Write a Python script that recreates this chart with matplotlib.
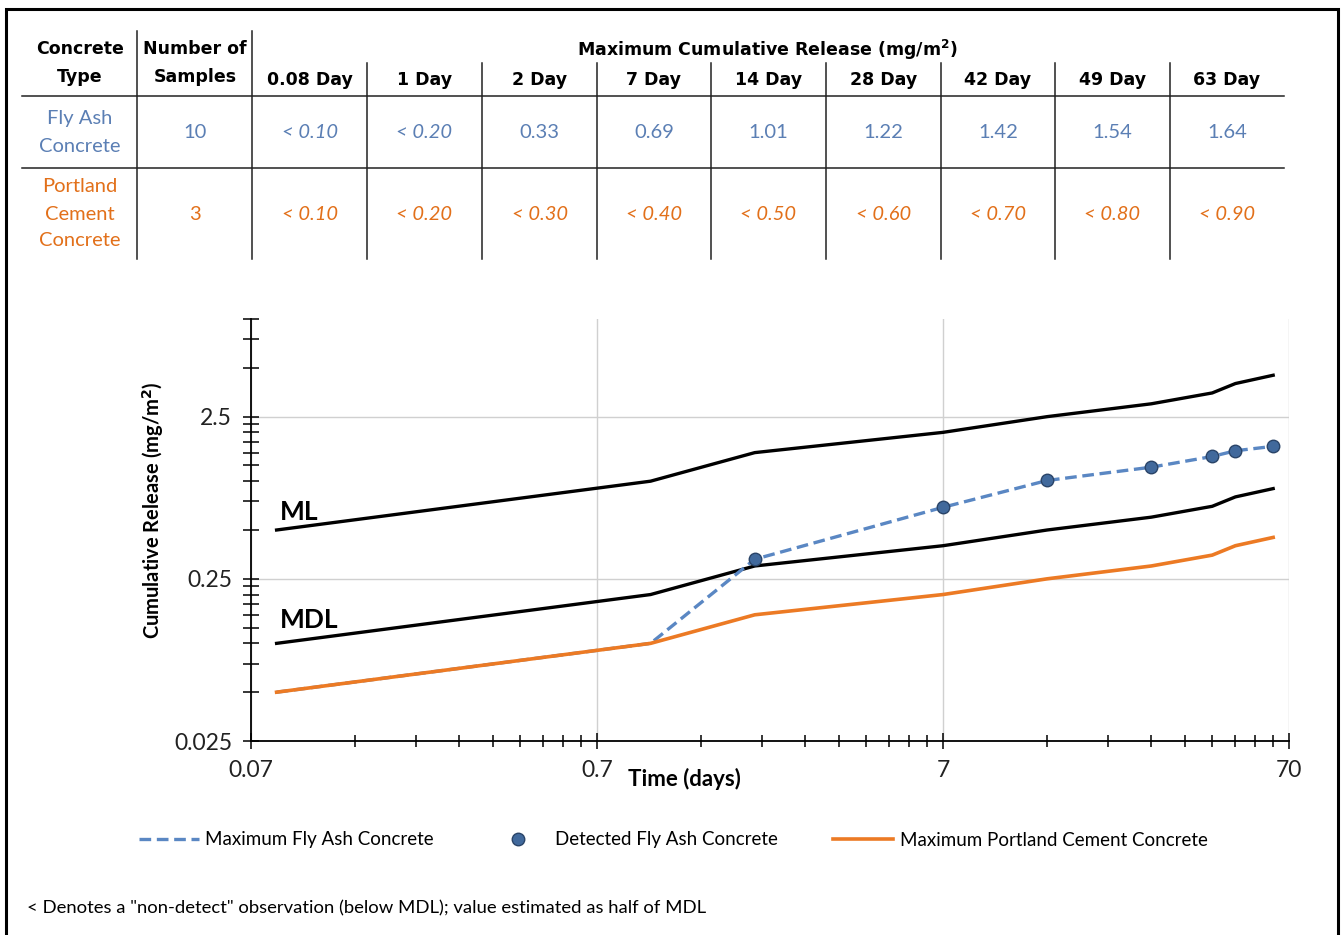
import matplotlib.pyplot as plt
import numpy as np
from matplotlib.lines import Line2D
from matplotlib.patches import Rectangle
from matplotlib.ticker import FixedLocator, NullFormatter

W, H = 1342, 935

# table data
day_labels = ["0.08 Day", "1 Day", "2 Day", "7 Day", "14 Day", "28 Day", "42 Day", "49 Day", "63 Day"]
fly_ash_cells = ["< 0.10", "< 0.20", "0.33", "0.69", "1.01", "1.22", "1.42", "1.54", "1.64"]
portland_cells = ["< 0.10", "< 0.20", "< 0.30", "< 0.40", "< 0.50", "< 0.60", "< 0.70", "< 0.80", "< 0.90"]
n_fly_ash = "10"
n_portland = "3"

# chart data
time_days = [0.083, 1, 2, 7, 14, 28, 42, 49, 63]
ml = [0.5, 1.0, 1.5, 2.0, 2.5, 3.0, 3.5, 4.0, 4.5]
mdl = [0.1, 0.2, 0.3, 0.4, 0.5, 0.6, 0.7, 0.8, 0.9]
fly_ash_max = [0.05, 0.10, 0.33, 0.69, 1.01, 1.22, 1.42, 1.54, 1.64]
portland_max = [0.05, 0.10, 0.15, 0.20, 0.25, 0.30, 0.35, 0.40, 0.45]
detected_t = time_days[2:]
detected_v = fly_ash_max[2:]

BLUE_TXT = "#5b7fb4"
ORANGE_TXT = "#e2701a"
DASH_BLUE = "#5a87c3"
DOT_BLUE = "#41699c"
ORANGE = "#ec7a24"

plt.rcParams['font.family'] = ['Lato', 'DejaVu Sans']


def fx(x):
    return x / W


def fy(y):
    return 1 - y / H


fig = plt.figure(figsize=(W / 100, H / 100), dpi=100)

# outer frame
fig.add_artist(Rectangle((fx(6), fy(945)), fx(1338) - fx(6), fy(9) - fy(945),
                         transform=fig.transFigure, fill=False, lw=2.2, ec="black"))

# ---- table ----
hdr = dict(family=['DejaVu Sans'], fontweight='bold', fontsize=12.5, ha='center', va='center')
fig.text(fx(80), fy(49), "Concrete", **hdr)
fig.text(fx(80), fy(77), "Type", **hdr)
fig.text(fx(195), fy(49), "Number of", **hdr)
fig.text(fx(195), fy(77), "Samples", **hdr)
fig.text(fx(767), fy(50), "Maximum Cumulative Release (mg/m$^{\\mathbf{2}}$)", **hdr)

col_edges = [252, 367, 482, 597, 711, 826, 941, 1055, 1170, 1284]
centers = [(a + b) / 2 for a, b in zip(col_edges[:-1], col_edges[1:])]
for c, lab in zip(centers, day_labels):
    fig.text(fx(c), fy(80), lab, **hdr)

cell = dict(fontsize=14.5, ha='center', va='center')
fig.text(fx(80), fy(119), "Fly Ash", color=BLUE_TXT, **cell)
fig.text(fx(80), fy(146), "Concrete", color=BLUE_TXT, **cell)
fig.text(fx(195), fy(132), n_fly_ash, color=BLUE_TXT, **cell)
fig.text(fx(80), fy(187), "Portland", color=ORANGE_TXT, **cell)
fig.text(fx(80), fy(214), "Cement", color=ORANGE_TXT, **cell)
fig.text(fx(80), fy(241), "Concrete", color=ORANGE_TXT, **cell)
fig.text(fx(195), fy(214), n_portland, color=ORANGE_TXT, **cell)
for c, v in zip(centers, fly_ash_cells):
    fig.text(fx(c), fy(132), v, color=BLUE_TXT, style='italic' if v.startswith("<") else 'normal', **cell)
for c, v in zip(centers, portland_cells):
    fig.text(fx(c), fy(214), v, color=ORANGE_TXT, style='italic', **cell)

lc = "#222222"
for x in [137, 252]:
    fig.add_artist(Line2D([fx(x), fx(x)], [fy(31), fy(259)], transform=fig.transFigure, color=lc, lw=1.1))
for x in col_edges[1:-1]:
    fig.add_artist(Line2D([fx(x), fx(x)], [fy(63), fy(259)], transform=fig.transFigure, color=lc, lw=1.1))
for y in [96, 168]:
    fig.add_artist(Line2D([fx(22), fx(1284)], [fy(y), fy(y)], transform=fig.transFigure, color=lc, lw=1.1))

# ---- chart ----
ax = fig.add_axes([fx(251), fy(741), fx(1289) - fx(251), fy(319) - fy(741)])
ax.set_xscale('log')
ax.set_yscale('log')
ax.set_xlim(0.07, 70)
ax.set_ylim(0.025, 10)

ax.plot(time_days, fly_ash_max, color=DASH_BLUE, lw=2.4, dashes=(3.5, 1.7), zorder=3,
        label="Maximum Fly Ash Concrete")
ax.plot(time_days, ml, color="black", lw=2.4, zorder=2)
ax.plot(time_days, mdl, color="black", lw=2.4, zorder=2)
ax.plot(time_days, portland_max, color=ORANGE, lw=2.6, zorder=4,
        label="Maximum Portland Cement Concrete")
ax.plot(detected_t, detected_v, ls='none', marker='o', ms=9, mfc=DOT_BLUE, mec="#2a4468",
        mew=1.0, zorder=5, label="Detected Fly Ash Concrete")

ax.text(0.085, 0.65, "ML", fontsize=19, fontweight='bold', va='center', ha='left')
ax.text(0.085, 0.14, "MDL", fontsize=19, fontweight='bold', va='center', ha='left')

xmaj = [0.07, 0.7, 7, 70]
xmin = [k * b for b in [0.07, 0.7, 7] for k in range(2, 10)]
ymaj = [0.025, 0.25, 2.5]
ymin = [k * b for b in [0.025, 0.25] for k in range(2, 10)] + [5, 7.5, 10]
ax.xaxis.set_major_locator(FixedLocator(xmaj))
ax.xaxis.set_minor_locator(FixedLocator(xmin))
ax.yaxis.set_major_locator(FixedLocator(ymaj))
ax.yaxis.set_minor_locator(FixedLocator(ymin))
ax.set_xticklabels(["0.07", "0.7", "7", "70"])
ax.set_yticklabels(["0.025", "0.25", "2.5"])
ax.xaxis.set_minor_formatter(NullFormatter())
ax.yaxis.set_minor_formatter(NullFormatter())
ax.tick_params(which='both', direction='inout', color='black', width=1.1, labelsize=16.5, labelcolor='#222222')
ax.tick_params(axis='y', which='both', length=11, pad=8)
ax.tick_params(axis='x', which='major', length=12, pad=8)
ax.tick_params(axis='x', which='minor', length=9)

ax.grid(True, which='major', color='#d0d0d0', lw=1.0)
ax.set_axisbelow(True)
for s in ['top', 'right']:
    ax.spines[s].set_visible(False)
for s in ['left', 'bottom']:
    ax.spines[s].set_linewidth(1.3)
    ax.spines[s].set_zorder(6)

fig.text(fx(153), fy(510), "Cumulative Release (mg/m$^{\\mathbf{2}}$)", rotation=90, fontsize=14.5,
         fontweight='bold', ha='center', va='center')
fig.text(fx(684), fy(779), "Time (days)", fontsize=16, fontweight='bold', ha='center', va='center')

h, l = ax.get_legend_handles_labels()
order = [0, 2, 1]
fig.legend([h[i] for i in order], [l[i] for i in order], loc='center', ncol=3,
           bbox_to_anchor=(fx(673), fy(840)), frameon=False, fontsize=13.5,
           handlelength=3.2, handletextpad=0.37, columnspacing=2.9)

fig.text(fx(27), fy(908), '< Denotes a "non-detect" observation (below MDL); value estimated as half of MDL',
         fontsize=13.3, ha='left', va='center')

plt.savefig("out.png", dpi=100)
